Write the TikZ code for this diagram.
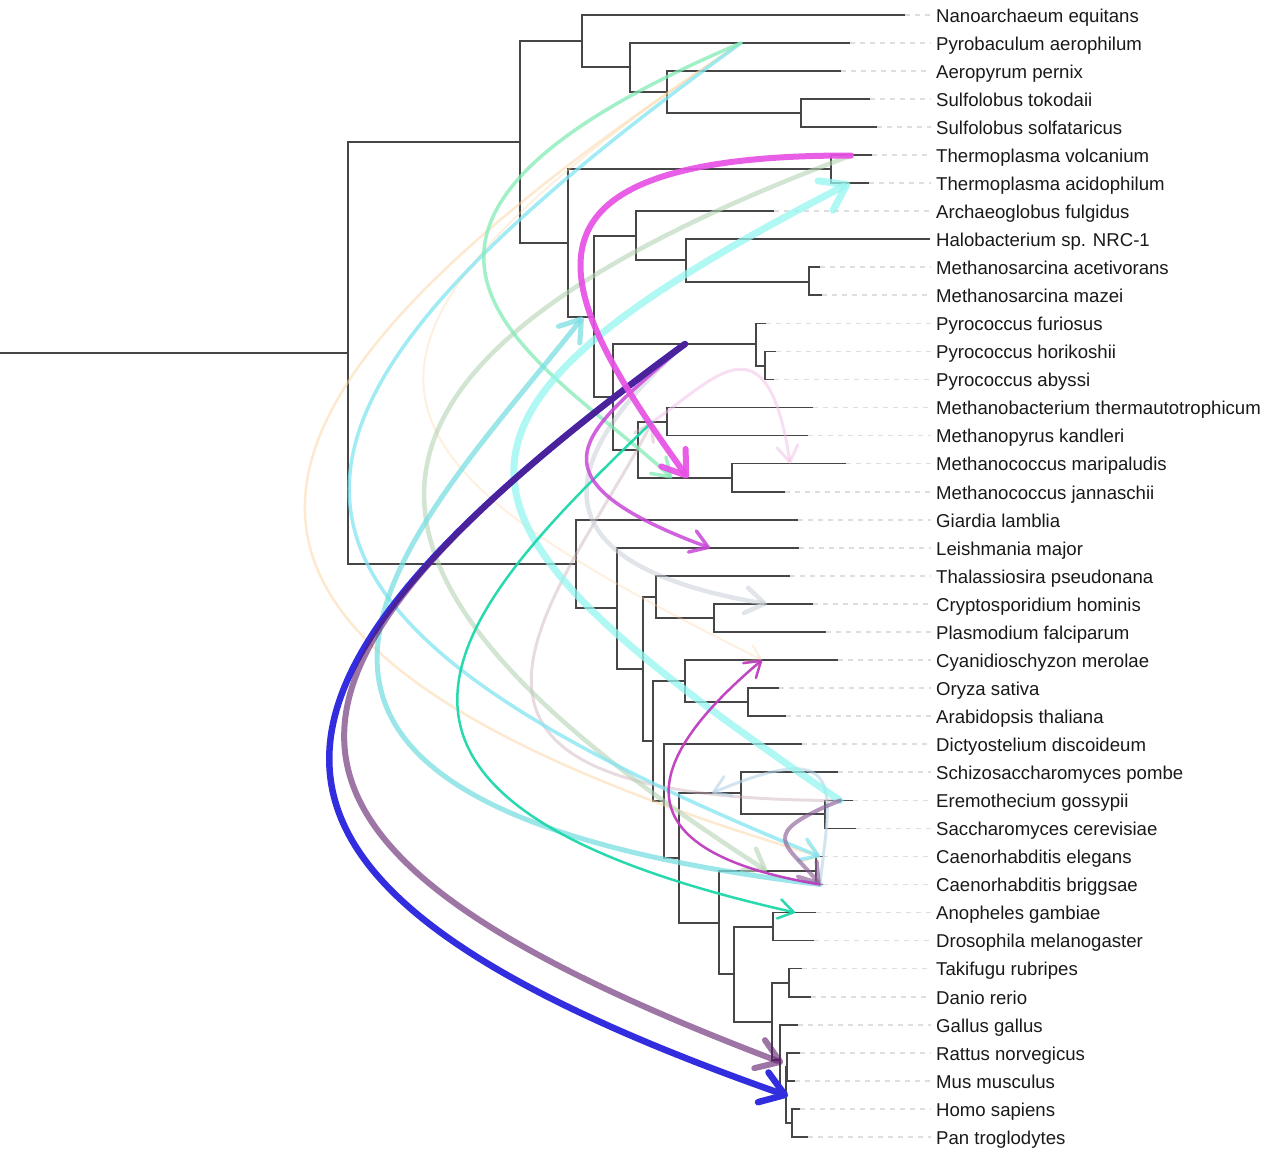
\documentclass[tikz,border=0pt]{standalone}
\usepackage{fontspec}
\setmainfont{Liberation Sans}
\usetikzlibrary{arrows.meta}

\definecolor{treegray}{RGB}{70,70,70}
\definecolor{leadergray}{RGB}{222,222,222}
\definecolor{hgtmagenta}{RGB}{230,80,228}
\definecolor{hgtpalecyan}{RGB}{150,245,240}
\definecolor{hgtcyan}{RGB}{120,222,226}
\definecolor{hgtskyblue}{RGB}{130,228,242}
\definecolor{hgtorange}{RGB}{250,212,160}
\definecolor{hgtgreen}{RGB}{130,235,180}
\definecolor{hgtsage}{RGB}{180,210,180}
\definecolor{hgtblue}{RGB}{50,45,222}
\definecolor{hgtmauve}{RGB}{93,27,107}
\definecolor{hgtsmallmauve}{RGB}{140,95,150}
\definecolor{hgtorchid}{RGB}{200,70,215}
\definecolor{hgtgrey}{RGB}{200,208,215}
\definecolor{hgtteal}{RGB}{30,215,170}
\definecolor{hgtdusty}{RGB}{205,175,185}
\definecolor{hgtpink}{RGB}{240,190,230}
\definecolor{hgtlightblue}{RGB}{180,210,230}
\definecolor{hgtpurple}{RGB}{190,60,190}

\begin{document}
\begin{tikzpicture}[x=1pt, y=-1pt, font=\fontsize{18.6}{22}\selectfont]
    % Define styles
    \tikzset{
        branch/.style={draw=treegray, line width=1.2pt},
        leader/.style={draw=leadergray, line width=1.2pt, dash pattern=on 5pt off 5pt},
        taxon/.style={anchor=west, inner sep=0pt, text height=14pt, text depth=0pt, text=black!90},
        hgt/.style={line cap=round, -{Straight Barb[round, length=10pt 2, width=12pt 3]}},
    }
    \useasboundingbox (0,0) rectangle (1266,1152);

    % Leaves: tips and names
    \coordinate (tNeq) at (905,15);     \node[taxon] (Neq) at (936,15) {Nanoarchaeum equitans};
    \coordinate (tPae) at (850,43);     \node[taxon] (Pae) at (936,43) {Pyrobaculum aerophilum};
    \coordinate (tApe) at (841,71);     \node[taxon] (Ape) at (936,71) {Aeropyrum pernix};
    \coordinate (tSto) at (870,99);     \node[taxon] (Sto) at (936,99) {Sulfolobus tokodaii};
    \coordinate (tSso) at (877,127);    \node[taxon] (Sso) at (936,127) {Sulfolobus solfataricus};
    \coordinate (tTvo) at (872,155);    \node[taxon] (Tvo) at (936,155) {Thermoplasma volcanium};
    \coordinate (tTac) at (869,183);    \node[taxon] (Tac) at (936,183) {Thermoplasma acidophilum};
    \coordinate (tAfu) at (774,211);    \node[taxon] (Afu) at (936,211) {Archaeoglobus fulgidus};
    \coordinate (tHsp) at (930,239);    \node[taxon] (Hsp) at (936,239) {Halobacterium sp. NRC-1};
    \coordinate (tMac) at (820,267);    \node[taxon] (Mac) at (936,267) {Methanosarcina acetivorans};
    \coordinate (tMma) at (822,295);    \node[taxon] (Mma) at (936,295) {Methanosarcina mazei};
    \coordinate (tPfu) at (766,323.5);  \node[taxon] (Pfu) at (936,323.5) {Pyrococcus furiosus};
    \coordinate (tPho) at (776,351.5);  \node[taxon] (Pho) at (936,351.5) {Pyrococcus horikoshii};
    \coordinate (tPab) at (774,379.5);  \node[taxon] (Pab) at (936,379.5) {Pyrococcus abyssi};
    \coordinate (tMth) at (813,407.5);  \node[taxon] (Mth) at (936,407.5) {Methanobacterium thermautotrophicum};
    \coordinate (tMka) at (808,435.5);  \node[taxon] (Mka) at (936,435.5) {Methanopyrus kandleri};
    \coordinate (tMmp) at (846,463.5);  \node[taxon] (Mmp) at (936,463.5) {Methanococcus maripaludis};
    \coordinate (tMja) at (785,492);    \node[taxon] (Mja) at (936,492) {Methanococcus jannaschii};
    \coordinate (tGla) at (798,520);    \node[taxon] (Gla) at (936,520) {Giardia lamblia};
    \coordinate (tLma) at (799,548);    \node[taxon] (Lma) at (936,548) {Leishmania major};
    \coordinate (tTps) at (790,576);    \node[taxon] (Tps) at (936,576) {Thalassiosira pseudonana};
    \coordinate (tCho) at (813,604);    \node[taxon] (Cho) at (936,604) {Cryptosporidium hominis};
    \coordinate (tPfa) at (826,632);    \node[taxon] (Pfa) at (936,632) {Plasmodium falciparum};
    \coordinate (tCme) at (838,660);    \node[taxon] (Cme) at (936,660) {Cyanidioschyzon merolae};
    \coordinate (tOsa) at (779,688);    \node[taxon] (Osa) at (936,688) {Oryza sativa};
    \coordinate (tAth) at (786,716);    \node[taxon] (Ath) at (936,716) {Arabidopsis thaliana};
    \coordinate (tDdi) at (802,744);    \node[taxon] (Ddi) at (936,744) {Dictyostelium discoideum};
    \coordinate (tSpo) at (838,772);    \node[taxon] (Spo) at (936,772) {Schizosaccharomyces pombe};
    \coordinate (tEgo) at (853,800.5);  \node[taxon] (Ego) at (936,800.5) {Eremothecium gossypii};
    \coordinate (tSce) at (856,828.5);  \node[taxon] (Sce) at (936,828.5) {Saccharomyces cerevisiae};
    \coordinate (tCel) at (823,856.5);  \node[taxon] (Cel) at (936,856.5) {Caenorhabditis elegans};
    \coordinate (tCbr) at (823,884.5);  \node[taxon] (Cbr) at (936,884.5) {Caenorhabditis briggsae};
    \coordinate (tAga) at (816,912.5);  \node[taxon] (Aga) at (936,912.5) {Anopheles gambiae};
    \coordinate (tDme) at (814,940.5);  \node[taxon] (Dme) at (936,940.5) {Drosophila melanogaster};
    \coordinate (tTru) at (802,968.5);  \node[taxon] (Tru) at (936,968.5) {Takifugu rubripes};
    \coordinate (tDre) at (811,997);    \node[taxon] (Dre) at (936,997) {Danio rerio};
    \coordinate (tGga) at (798,1025);   \node[taxon] (Gga) at (936,1025) {Gallus gallus};
    \coordinate (tRno) at (800,1053);   \node[taxon] (Rno) at (936,1053) {Rattus norvegicus};
    \coordinate (tMmu) at (795,1081);   \node[taxon] (Mmu) at (936,1081) {Mus musculus};
    \coordinate (tHsa) at (800,1109);   \node[taxon] (Hsa) at (936,1109) {Homo sapiens};
    \coordinate (tPtr) at (808,1137);   \node[taxon] (Ptr) at (936,1137) {Pan troglodytes};

    % Dashed leaders from tips to names
    \foreach \t in {Neq,Pae,Ape,Sto,Sso,Tvo,Tac,Afu,Mac,Mma,Pfu,Pho,Pab,Mth,Mka,Mmp,Mja,
                    Gla,Lma,Tps,Cho,Pfa,Cme,Osa,Ath,Ddi,Spo,Ego,Sce,Cel,Cbr,Aga,Dme,
                    Tru,Dre,Gga,Rno,Mmu,Hsa,Ptr}
        \draw[leader] (t\t) -- ([xshift=-5pt]\t.west);

    % Internal nodes
    \coordinate (base) at (0,353);
    \coordinate (nRoot) at (348,353);
    \coordinate (nArc) at (520,142);
    \coordinate (nCren) at (582,41);
    \coordinate (nCren2) at (630,67);
    \coordinate (nCren3) at (667,92);
    \coordinate (nSul) at (801,113);
    \coordinate (nEury) at (568,243);
    \coordinate (nTpl) at (831,169);
    \coordinate (nEury2) at (594,317);
    \coordinate (nHalo) at (636,236);
    \coordinate (nHalo2) at (686,260);
    \coordinate (nMsa) at (809,282);
    \coordinate (nEury3) at (613,397);
    \coordinate (nPyr) at (756,344);
    \coordinate (nPyr2) at (765,366);
    \coordinate (nMcc) at (638,450);
    \coordinate (nMba) at (667,422);
    \coordinate (nMja) at (732,478);
    \coordinate (nEuk) at (576,564);
    \coordinate (nEuk1) at (617,608);
    \coordinate (nEuk2) at (643,669);
    \coordinate (nSar) at (656,597);
    \coordinate (nApi) at (714,618);
    \coordinate (nEuk3) at (653,741);
    \coordinate (nPla) at (685,681);
    \coordinate (nAng) at (748,702);
    \coordinate (nEuk4) at (664,801);
    \coordinate (nOpi) at (679,858);
    \coordinate (nFun) at (741,793);
    \coordinate (nSac) at (825,814);
    \coordinate (nAni) at (719,923);
    \coordinate (nCae) at (816,871);
    \coordinate (nBil) at (734,974);
    \coordinate (nDip) at (773,927);
    \coordinate (nVer) at (772,1022);
    \coordinate (nFish) at (789,983);
    \coordinate (nAmn) at (780,1060);
    \coordinate (nMam) at (786,1095);
    \coordinate (nRod) at (787,1067);
    \coordinate (nPri) at (792,1123);

    % Branches
    \draw[branch] (base) -- (nRoot);
    \draw[branch] (nArc) -| (nRoot) |- (nEuk);
    \draw[branch] (nCren) -| (nArc) |- (nEury);
    \draw[branch] (tNeq) -| (nCren) |- (nCren2);
    \draw[branch] (tPae) -| (nCren2) |- (nCren3);
    \draw[branch] (tApe) -| (nCren3) |- (nSul);
    \draw[branch] (tSto) -| (nSul) |- (tSso);
    \draw[branch] (nTpl) -| (nEury) |- (nEury2);
    \draw[branch] (tTvo) -| (nTpl) |- (tTac);
    \draw[branch] (nHalo) -| (nEury2) |- (nEury3);
    \draw[branch] (tAfu) -| (nHalo) |- (nHalo2);
    \draw[branch] (tHsp) -| (nHalo2) |- (nMsa);
    \draw[branch] (tMac) -| (nMsa) |- (tMma);
    \draw[branch] (nPyr) -| (nEury3) |- (nMcc);
    \draw[branch] (tPfu) -| (nPyr) |- (nPyr2);
    \draw[branch] (tPho) -| (nPyr2) |- (tPab);
    \draw[branch] (nMba) -| (nMcc) |- (nMja);
    \draw[branch] (tMth) -| (nMba) |- (tMka);
    \draw[branch] (tMmp) -| (nMja) |- (tMja);
    \draw[branch] (tGla) -| (nEuk) |- (nEuk1);
    \draw[branch] (tLma) -| (nEuk1) |- (nEuk2);
    \draw[branch] (nSar) -| (nEuk2) |- (nEuk3);
    \draw[branch] (tTps) -| (nSar) |- (nApi);
    \draw[branch] (tCho) -| (nApi) |- (tPfa);
    \draw[branch] (nPla) -| (nEuk3) |- (nEuk4);
    \draw[branch] (tCme) -| (nPla) |- (nAng);
    \draw[branch] (tOsa) -| (nAng) |- (tAth);
    \draw[branch] (tDdi) -| (nEuk4) |- (nOpi);
    \draw[branch] (nFun) -| (nOpi) |- (nAni);
    \draw[branch] (tSpo) -| (nFun) |- (nSac);
    \draw[branch] (tEgo) -| (nSac) |- (tSce);
    \draw[branch] (nCae) -| (nAni) |- (nBil);
    \draw[branch] (tCel) -| (nCae) |- (tCbr);
    \draw[branch] (nDip) -| (nBil) |- (nVer);
    \draw[branch] (tAga) -| (nDip) |- (tDme);
    \draw[branch] (nFish) -| (nVer) |- (nAmn);
    \draw[branch] (tTru) -| (nFish) |- (tDre);
    \draw[branch] (tGga) -| (nAmn) |- (nMam);
    \draw[branch] (nRod) -| (nMam) |- (nPri);
    \draw[branch] (tRno) -| (nRod) |- (tMmu);
    \draw[branch] (tHsa) -| (nPri) |- (tPtr);

    % Transfer end points
    \coordinate (hPae) at (741,43);
    \coordinate (hTvo) at (851,155.5);
    \coordinate (hTac) at (850,183);
    \coordinate (hMja) at (688,478);
    \coordinate (hMjg) at (672,478);
    \coordinate (hEury) at (583,317);
    \coordinate (hPyr) at (685,344);
    \coordinate (hMba) at (652,422);
    \coordinate (hMmp) at (790,463.5);
    \coordinate (hLma) at (710,548);
    \coordinate (hCho) at (767,604);
    \coordinate (hCme) at (762,660);
    \coordinate (hFun) at (712,793);
    \coordinate (hEgo) at (840,800.5);
    \coordinate (hCel) at (820,856.5);
    \coordinate (hCae) at (767,871);
    \coordinate (hCbr) at (820,884.5);
    \coordinate (hAga) at (795,912.5);
    \coordinate (hRod) at (783,1063);
    \coordinate (hMam) at (788,1096);

    % Transfers
    \draw[hgt, draw=hgtorange, draw opacity=0.35, line width=2pt] (hPae) .. controls (258,365) and (376,467) .. (hCme);
    \draw[hgt, draw=hgtorange, draw opacity=0.5, line width=2.5pt] (hPae) .. controls (210,396) and (84,637) .. (hCel);
    \draw[hgt, draw=hgtdusty, draw opacity=0.45, line width=3pt] (hEgo) .. controls (360,800) and (560,600) .. (hMba);
    \draw[hgt, draw=hgtpink, draw opacity=0.5, line width=3pt] (hMba) .. controls (711,383) and (767,309) .. (hMmp);
    \draw[hgt, draw=hgtlightblue, draw opacity=0.6, line width=3pt] (hCbr) .. controls (830,790) and (850,735) .. (hFun);
    \draw[hgt, draw=hgtgrey, draw opacity=0.55, line width=4.5pt] (hPyr) .. controls (612,410) and (472,554) .. (hCho);
    \draw[hgt, draw=hgtsage, draw opacity=0.6, line width=4.5pt] (hTvo) .. controls (239,385) and (354,605) .. (hCae);
    \draw[hgt, draw=hgtskyblue, draw opacity=0.75, line width=3.5pt] (hPae) .. controls (211,428) and (202,606) .. (hCel);
    \draw[hgt, draw=hgtgreen, draw opacity=0.75, line width=3.5pt] (hPae) .. controls (285,236) and (550,364) .. (hMjg);
    \draw[hgt, draw=hgtpalecyan, draw opacity=0.75, line width=7pt] (hEgo) .. controls (436,525) and (374,427) .. (hTac);
    \draw[hgt, draw=hgtcyan, draw opacity=0.75, line width=5pt] (hCbr) .. controls (120,800) and (420,525) .. (hEury);
    \draw[hgt, draw=hgtteal, draw opacity=0.95, line width=2.5pt] (hMba) .. controls (467,600) and (272,795) .. (hAga);
    \draw[hgt, draw=hgtsmallmauve, draw opacity=0.65, line width=4pt] (hEgo) .. controls (755,835) and (786,843) .. (hCbr);
    \draw[hgt, draw=hgtpurple, draw opacity=0.95, line width=2.5pt] (hCbr) .. controls (570,843) and (689,722) .. (hCme);
    \draw[hgt, draw=hgtorchid, draw opacity=0.85, line width=3.5pt] (hPyr) .. controls (592,428) and (511,474) .. (hLma);
    \draw[hgt, draw=hgtblue, line width=6.5pt] (hPyr) .. controls (211,691) and (179,882) .. (hMam);
    \draw[hgt, draw=hgtmauve, draw opacity=0.6, line width=6pt] (hPyr) .. controls (220,685) and (212,846) .. (hRod);
    \draw[hgt, draw=hgtmagenta, draw opacity=0.92, line width=6pt] (hTvo) .. controls (480,155) and (560,300) .. (hMja);
\end{tikzpicture}
\end{document}
